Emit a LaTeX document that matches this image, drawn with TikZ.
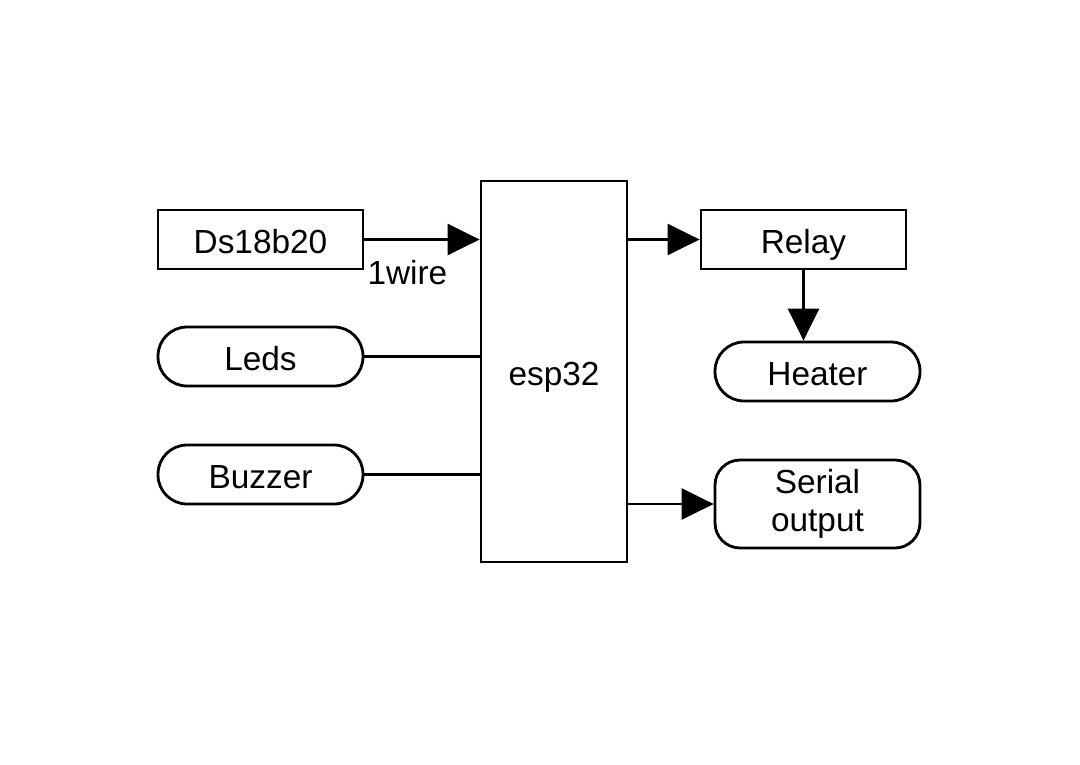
\documentclass[tikz,border=0pt]{standalone}
\usepackage{fontspec}
\setmainfont{Liberation Sans}
\usetikzlibrary{arrows.meta}
\tikzset{
  blockbox/.style={draw, line width=1.6pt, minimum width=4.1cm, minimum height=1.18cm, inner sep=0pt,
    text height=0.54cm, text depth=0cm},
  pillbox/.style={blockbox, rounded corners=0.58cm},
  wire/.style={line width=1.6pt},
  flow/.style={wire, -{Triangle[length=0.64cm, width=0.62cm]}}
}
\begin{document}
\begin{tikzpicture}[x=0.02cm, y=-0.02cm, font=\fontsize{19}{23}\selectfont]
  \useasboundingbox (0,0) rectangle (1080,765);
  % inputs
  \node[blockbox] (ds) at (260.5,239.5) {Ds18b20};
  \node[pillbox] (leds) at (260.5,356.5) {Leds};
  \node[pillbox] (buzzer) at (260.5,474.5) {Buzzer};
  % controller
  \node[blockbox, minimum width=2.92cm, minimum height=7.62cm] (esp) at (554,371.5) {esp32};
  % outputs
  \node[blockbox] (relay) at (803.5,239.5) {Relay};
  \node[pillbox] (heater) at (817.5,371.5) {Heater};
  \node[blockbox, rounded corners=0.5cm, minimum height=1.76cm, align=center, text height=, text depth=,
        font=\fontsize{19}{22}\selectfont] (serial) at (817.5,504) {Serial\\output};
  % connectors
  \draw[flow] (ds.east) -- node[pos=0, anchor=north west, inner sep=1pt, yshift=-0.345cm] (onewire) {1wire} (ds.east -| esp.west);
  \draw[wire] (leds.east) -- (leds.east -| esp.west);
  \draw[wire] (buzzer.east) -- (buzzer.east -| esp.west);
  \draw[flow] (relay.west -| esp.east) -- (relay.west);
  \draw[flow] (relay.south) -- (relay.south |- heater.north);
  \draw[flow] (serial.west -| esp.east) -- (serial.west);
\end{tikzpicture}
\end{document}
